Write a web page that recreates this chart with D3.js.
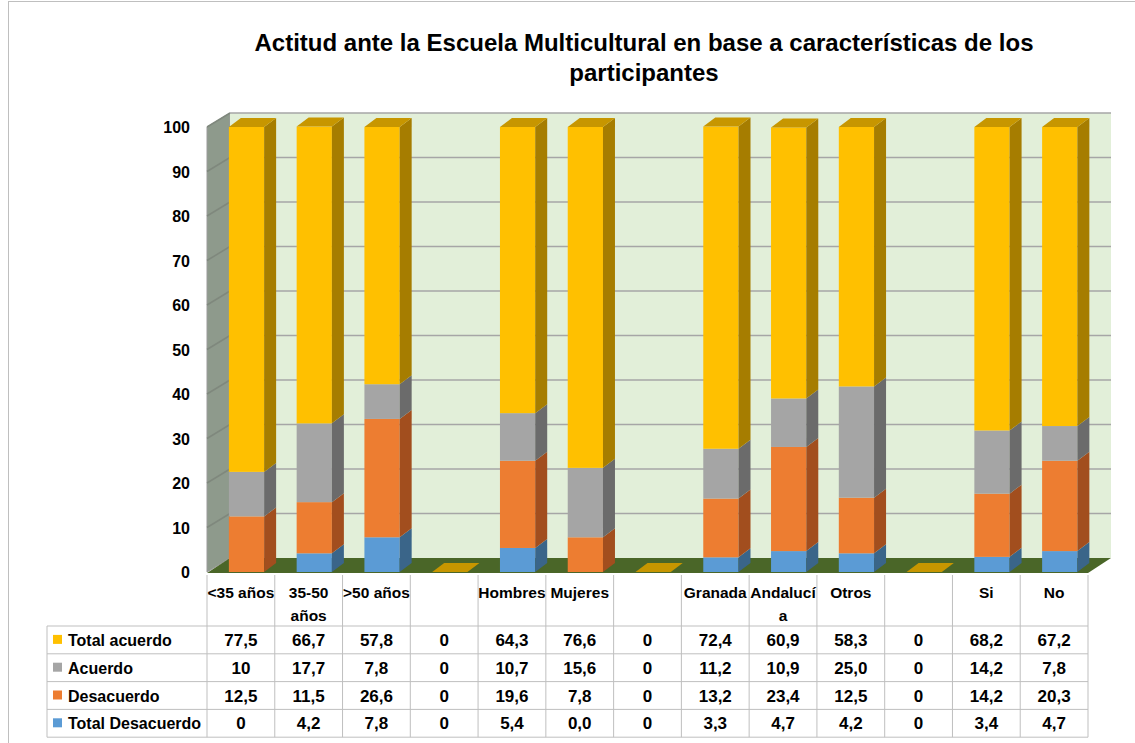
<!DOCTYPE html>
<html lang="es">
<head>
<meta charset="UTF-8">
<title>Actitud ante la Escuela Multicultural</title>
<script src="https://d3js.org/d3.v7.min.js"></script>
<style>
  body { margin: 0; background: #fff; }
  svg { display: block; font-family: "Liberation Sans", Arial, sans-serif; }
</style>
</head>
<body>
<script>
  // categories (header lines as they wrap in the data table)
  const categories = ["<35 años", "35-50 años", ">50 años", "", "Hombres", "Mujeres", "",
    "Granada", "Andalucía", "Otros", "", "Si", "No"];
  const categoryLines = [["<35 años"], ["35-50", "años"], [">50 años"], [""], ["Hombres"], ["Mujeres"], [""],
    ["Granada"], ["Andalucí", "a"], ["Otros"], [""], ["Si"], ["No"]];

  // series values, as printed in the table
  const totalAcuerdo    = ["77,5", "66,7", "57,8", "0", "64,3", "76,6", "0", "72,4", "60,9", "58,3", "0", "68,2", "67,2"];
  const acuerdo         = ["10", "17,7", "7,8", "0", "10,7", "15,6", "0", "11,2", "10,9", "25,0", "0", "14,2", "7,8"];
  const desacuerdo      = ["12,5", "11,5", "26,6", "0", "19,6", "7,8", "0", "13,2", "23,4", "12,5", "0", "14,2", "20,3"];
  const totalDesacuerdo = ["0", "4,2", "7,8", "0", "5,4", "0,0", "0", "3,3", "4,7", "4,2", "0", "3,4", "4,7"];

  const yTicks = [0, 10, 20, 30, 40, 50, 60, 70, 80, 90, 100];

  // stacking order bottom -> top
  const series = [
    { name: "Total Desacuerdo", values: totalDesacuerdo, front: "#5B9BD5", side: "#3A6589", top: "#4A82B5" },
    { name: "Desacuerdo",       values: desacuerdo,      front: "#ED7D31", side: "#A24E1E", top: "#C8662A" },
    { name: "Acuerdo",          values: acuerdo,         front: "#A5A5A5", side: "#6B6B6B", top: "#8A8A8A" },
    { name: "Total acuerdo",    values: totalAcuerdo,    front: "#FFC000", side: "#A67D00", top: "#C79600" }
  ];
  // table rows top -> bottom
  const tableRows = series.slice().reverse();

  const num = s => +s.replace(",", ".");

  const W = 1135, H = 743;
  const svg = d3.select("body").append("svg").attr("width", W).attr("height", H);

  // chart border
  svg.append("rect").attr("x", 8.5).attr("y", 1.5).attr("width", W).attr("height", H)
    .attr("fill", "none").attr("stroke", "#BFBFBF");

  // title
  const title = svg.append("text").attr("text-anchor", "middle")
    .attr("font-weight", "bold").attr("font-size", 24).attr("fill", "#000");
  title.append("tspan").attr("x", 644).attr("y", 51)
    .text("Actitud ante la Escuela Multicultural en base a características de los");
  title.append("tspan").attr("x", 644).attr("y", 81).text("participantes");

  // scales
  const x = d3.scaleBand().domain(d3.range(categories.length)).range([207, 1088]).padding(0);
  const y = d3.scaleLinear().domain([0, 100]).range([572, 127]);
  const wallDx = 23, wallDy = -14;
  const barDx = 12, barDy = -9;
  const barW = x.bandwidth() * 0.52;
  const barX = i => x(i) + x.bandwidth() / 2 - 12;

  const x0 = x.range()[0], x1 = x.range()[1];

  // side wall
  svg.append("polygon")
    .attr("points", [[x0, y(0)], [x0, y(100)], [x0 + wallDx, y(100) + wallDy], [x0 + wallDx, y(0) + wallDy]].join(" "))
    .attr("fill", "#8E9A8C").attr("stroke", "#9A9A9A");
  // back wall
  svg.append("rect")
    .attr("x", x0 + wallDx).attr("y", y(100) + wallDy)
    .attr("width", x1 - x0).attr("height", y(0) - y(100))
    .attr("fill", "#E2EFD9");

  // gridlines on both walls
  const grid = svg.append("g").attr("stroke", "#A6A6A6").attr("stroke-width", 1.5);
  yTicks.filter(v => v > 0).forEach(v => {
    grid.append("line").attr("x1", x0).attr("y1", y(v)).attr("x2", x0 + wallDx).attr("y2", y(v) + wallDy)
      .attr("stroke", "#7F887D");
    grid.append("line").attr("x1", x0 + wallDx).attr("y1", y(v) + wallDy)
      .attr("x2", x1 + wallDx).attr("y2", y(v) + wallDy);
  });

  // floor
  svg.append("polygon")
    .attr("points", [[x0, y(0) + 1], [x1, y(0) + 1], [x1 + wallDx, y(0) + wallDy], [x0 + wallDx, y(0) + wallDy]].join(" "))
    .attr("fill", "#4A6628");

  // y tick labels
  svg.append("g").selectAll("text").data(yTicks).join("text")
    .attr("x", 190).attr("y", d => y(d) + 6)
    .attr("text-anchor", "end").attr("font-weight", "bold").attr("font-size", 16)
    .text(d => d);

  // 3D stacked bars
  const bars = svg.append("g");
  categories.forEach((c, i) => {
    let base = 0;
    const bx = barX(i);
    const lastSeg = series.length - 1;
    series.forEach((s, k) => {
      const v = num(s.values[i]);
      const yb = y(base), yt = y(base + v);
      base += v;
      if (v > 0) {
        bars.append("rect").attr("x", bx).attr("y", yt).attr("width", barW).attr("height", yb - yt)
          .attr("fill", s.front);
        bars.append("polygon")
          .attr("points", [[bx + barW, yb], [bx + barW, yt], [bx + barW + barDx, yt + barDy], [bx + barW + barDx, yb + barDy]].join(" "))
          .attr("fill", s.side);
      }
      if (k === lastSeg) {
        bars.append("polygon")
          .attr("points", [[bx, yt], [bx + barW, yt], [bx + barW + barDx, yt + barDy], [bx + barDx, yt + barDy]].join(" "))
          .attr("fill", s.top);
      }
    });
  });

  // data table
  const tbl = svg.append("g");
  const headTop = 575, rowTop = 626, rowH = 27.8, legendLeft = 47;
  const lineC = "#BFBFBF";
  const tableBottom = rowTop + rowH * tableRows.length;

  // vertical lines
  d3.range(categories.length + 1).forEach(i => {
    const xx = i === categories.length ? x1 : x(i);
    tbl.append("line").attr("x1", xx).attr("x2", xx).attr("y1", headTop).attr("y2", tableBottom)
      .attr("stroke", lineC);
  });
  tbl.append("line").attr("x1", legendLeft).attr("x2", legendLeft).attr("y1", rowTop).attr("y2", tableBottom)
    .attr("stroke", lineC);
  // horizontal lines
  d3.range(tableRows.length + 1).forEach(r => {
    const yy = rowTop + r * rowH;
    tbl.append("line").attr("x1", legendLeft).attr("x2", x1).attr("y1", yy).attr("y2", yy)
      .attr("stroke", lineC);
  });

  // header (category names)
  categoryLines.forEach((lines, i) => {
    const t = tbl.append("text").attr("text-anchor", "middle").attr("font-weight", "bold")
      .attr("font-size", 15.5);
    lines.forEach((ln, j) => {
      t.append("tspan").attr("x", x(i) + x.bandwidth() / 2).attr("y", 598 + j * 23).text(ln);
    });
  });

  // legend column + values
  tableRows.forEach((s, r) => {
    const cy = rowTop + r * rowH + rowH / 2;
    tbl.append("rect").attr("x", 53).attr("y", cy - 5).attr("width", 9).attr("height", 9).attr("fill", s.front);
    tbl.append("text").attr("x", 68).attr("y", cy + 6).attr("font-weight", "bold").attr("font-size", 16)
      .text(s.name);
    s.values.forEach((v, i) => {
      tbl.append("text").attr("x", x(i) + x.bandwidth() / 2).attr("y", cy + 6)
        .attr("text-anchor", "middle").attr("font-weight", "bold").attr("font-size", 17)
        .text(v);
    });
  });
</script>
</body>
</html>
